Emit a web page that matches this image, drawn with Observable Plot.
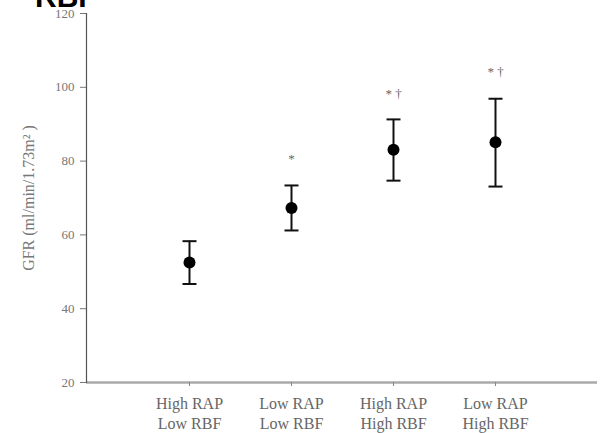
<!DOCTYPE html>
<html>
<head>
<meta charset="utf-8">
<script src="https://cdn.jsdelivr.net/npm/d3@7"></script>
<script src="https://cdn.jsdelivr.net/npm/@observablehq/plot@0.6"></script>
<style>
  body { margin: 0; background: #fff; }
  #wrap { position: relative; width: 600px; height: 433px; overflow: hidden; }
  #title { position: absolute; left: 35px; top: -18px; font: bold 30px "Liberation Sans", Arial, sans-serif; line-height: 30px; color: #000; }
  svg { display: block; }
</style>
</head>
<body>
<div id="wrap"><div id="title">RBF</div></div>
<script>
const categories = ["High RAP\nLow RBF", "Low RAP\nLow RBF", "High RAP\nHigh RBF", "Low RAP\nHigh RBF"];
const means = [52.5, 67.3, 83.1, 85.1];
const upper = [58.3, 73.4, 91.3, 96.9];
const lower = [46.7, 61.2, 74.7, 73.1];
const sigLabels = ["", "*", "* \u2020", "* \u2020"];
const sigY = [null, 80.7, 98.3, 104.3];
const yTicks = [20, 40, 60, 80, 100, 120];
const yLabel = "GFR (ml/min/1.73m\u00b2 )";

const data = categories.map((c, i) => ({c, m: means[i], hi: upper[i], lo: lower[i], s: sigLabels[i], sy: sigY[i]}));
const cap = {draw(ctx) { ctx.moveTo(-7, 0); ctx.lineTo(7, 0); }};

const chart = Plot.plot({
  width: 600,
  height: 433,
  marginLeft: 86,
  marginRight: 3,
  marginTop: 13,
  marginBottom: 51,
  style: {fontFamily: "'Liberation Serif', 'Times New Roman', serif", color: "#666", background: "#fff"},
  x: {type: "point", domain: categories, padding: 1},
  y: {domain: [20, 120]},
  marks: [
    Plot.ruleY([20], {stroke: "#aaa", strokeWidth: 2.5}),
    Plot.frame({anchor: "left", stroke: "#555", strokeWidth: 1.2}),
    Plot.axisY({ticks: yTicks, tickSize: 6, tickPadding: 6, fontSize: 13, stroke: "#777", fill: "#777", label: null}),
    Plot.text([yLabel], {frameAnchor: "left", textAnchor: "middle", rotate: -90, dx: -58, fontSize: 16, fill: "#777"}),
    Plot.axisX({tickSize: 4, tickPadding: 8, fontSize: 16, lineHeight: 1.25, stroke: "#888", fill: "#666", label: null}),
    Plot.ruleX(data, {x: "c", y1: "lo", y2: "hi", stroke: "#111", strokeWidth: 2}),
    Plot.dot(data, {x: "c", y: "hi", symbol: cap, fill: "none", stroke: "#111", strokeWidth: 2}),
    Plot.dot(data, {x: "c", y: "lo", symbol: cap, fill: "none", stroke: "#111", strokeWidth: 2}),
    Plot.dot(data, {x: "c", y: "m", r: 6, fill: "#000"}),
    Plot.text(data.filter(d => d.s), {x: "c", y: "sy", text: "s", fontSize: 13, fill: "#666"})
  ]
});
document.getElementById("wrap").insertBefore(chart, document.getElementById("title"));
</script>
</body>
</html>
